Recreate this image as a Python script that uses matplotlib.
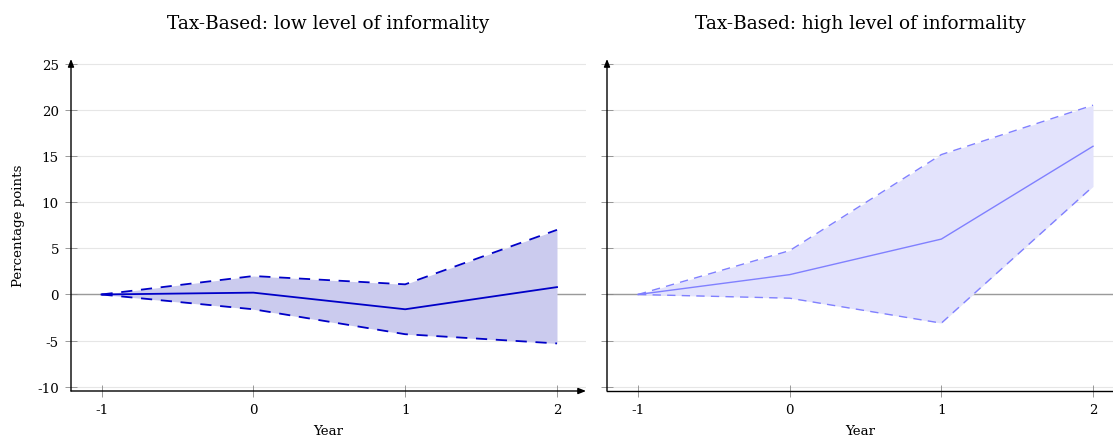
import matplotlib
matplotlib.use("Agg")
import matplotlib.pyplot as plt

years = [-1, 0, 1, 2]
yticks = [-10, -5, 0, 5, 10, 15, 20, 25]

low_mean = [0.0, 0.2, -1.6, 0.8]
low_upper = [0.0, 2.0, 1.1, 7.0]
low_lower = [0.0, -1.6, -4.3, -5.3]

high_mean = [0.0, 2.15, 6.0, 16.05]
high_upper = [0.0, 4.75, 15.15, 20.5]
high_lower = [0.0, -0.4, -3.1, 11.7]

titles = ["Tax-Based: low level of informality", "Tax-Based: high level of informality"]

plt.rcParams['font.family'] = ['DejaVu Serif']

W, H = 1113, 439
fig = plt.figure(figsize=(W / 100, H / 100), dpi=100)

def px_axes(left, right, bottom, top):
    return fig.add_axes([left / W, 1 - bottom / H, (right - left) / W, (bottom - top) / H])

ax1 = px_axes(71, 586, 392, 60)
ax2 = px_axes(607, 1113, 392, 60)

ppu = 151.8
ylo, yhi = -10.45, 25.5

panels = [
    (ax1, titles[0], low_mean, low_upper, low_lower, (0.0, 0.0, 0.78), '#cbcbee', 1.3, (0, (6.2, 4.8)), -1 - 30.5 / ppu, 2 + 29 / ppu, True),
    (ax2, titles[1], high_mean, high_upper, high_lower, (0.5, 0.5, 1.0), '#e3e3fc', 1.0, (0, (6, 4.5)), -1 - 31 / ppu, 2 + 20 / ppu, False),
]

for ax, title, m, up, lo, lc, fc, lw, dash, xl, xr, first in panels:
    ax.set_xlim(xl, xr)
    ax.set_ylim(ylo, yhi)
    for yt in yticks:
        ax.axhline(yt, color='#e6e6e6', lw=0.8, zorder=0)
    ax.axhline(0, color='#9a9a9a', lw=1.0, zorder=1)
    ax.fill_between(years, lo, up, color=fc, lw=0, zorder=2)
    ax.plot(years, up, color=lc, lw=lw, ls=dash, zorder=3)
    ax.plot(years, lo, color=lc, lw=lw, ls=dash, zorder=3)
    ax.plot(years, m, color=lc, lw=lw, zorder=4)
    for s in ax.spines.values():
        s.set_visible(False)
    ax.set_xticks(years)
    ax.set_xticklabels([str(y) for y in years])
    ax.set_yticks(yticks)
    if first:
        ax.set_yticklabels([str(y) for y in yticks])
        ax.set_ylabel("Percentage points", fontsize=9.6, labelpad=9)
    else:
        ax.set_yticklabels([])
    ax.tick_params(direction='inout', length=8, width=0.6, color='#888888',
                   labelsize=9.6, pad=4.7)
    ax.set_xlabel("Year", fontsize=9.6, labelpad=6)
    ax.set_title(title, fontsize=13.3, pad=22)
    ax.patch.set_alpha(0)
    ax.annotate('', xy=(0, 1), xytext=(0, 0), xycoords='axes fraction',
                arrowprops=dict(arrowstyle='-|>,head_length=0.45,head_width=0.18',
                                color='black', lw=1.0, shrinkA=0, shrinkB=0), zorder=5)
    if first:
        ax.annotate('', xy=(1, 0), xytext=(0, 0), xycoords='axes fraction',
                    arrowprops=dict(arrowstyle='-|>,head_length=0.45,head_width=0.18',
                                    color='black', lw=1.0, shrinkA=0, shrinkB=0), zorder=5)
    else:
        ax.plot([0, 1], [0, 0], transform=ax.transAxes, color='black', lw=1.0,
                clip_on=False, zorder=5)

fig.savefig("out.png", dpi=100)
